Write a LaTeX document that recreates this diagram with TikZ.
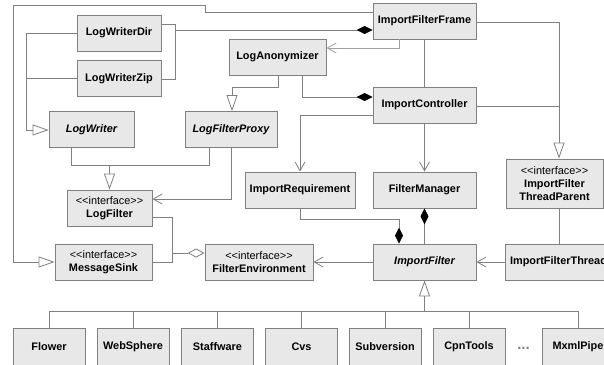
\documentclass[tikz,border=0pt]{standalone}
\usepackage{fontspec}
\setmainfont{Liberation Sans}
\usetikzlibrary{arrows.meta}
\definecolor{boxfill}{HTML}{E8E8E8}
\definecolor{edgecol}{HTML}{808080}
\definecolor{depcol}{HTML}{A0A0A0}
\newcommand\stereo[1]{<\kern0pt<#1>\kern0pt>}
\begin{document}
\begin{tikzpicture}[x=1pt,y=-1pt,
  box/.style={draw=edgecol, fill=boxfill, minimum height=36pt, inner sep=0pt, align=center,
    font=\fontsize{10.9}{12.7}\selectfont\bfseries, line width=0.8pt},
  lowbox/.style={box, minimum width=72pt, minimum height=38pt},
  conn/.style={draw=edgecol, line width=0.8pt},
  inh/.style={conn, -{Triangle[open, length=16pt, width=11pt, fill=white]}},
  comp/.style={conn, -{Diamond[length=16pt, width=8pt, fill=black, color=black]}},
  comprev/.style={conn, {Diamond[length=16pt, width=8pt, fill=black, color=black]}-},
  agg/.style={conn, -{Diamond[open, length=17pt, width=9pt, fill=white]}},
  assoc/.style={conn, -{Straight Barb[length=9pt, width=10pt]}},
  dep/.style={draw=depcol, line width=0.8pt, -{Straight Barb[length=9pt, width=10pt]}}
]
\useasboundingbox (0,0) rectangle (604,364);
\clip (0,0) rectangle (604,364);
\fill[white] (0,0) rectangle (604,364);

% nodes
\node[box, minimum width=103pt] (ifr) at (424.5,21) {ImportFilterFrame};
\node[box, minimum width=103pt] (ic) at (424.5,105) {ImportController};
\node[box, minimum width=84pt] (lwd) at (119,33) {LogWriterDir};
\node[box, minimum width=84pt] (lwz) at (119,78.5) {LogWriterZip};
\node[box, minimum width=97pt] (la) at (277.5,57) {LogAnonymizer};
\node[box, minimum width=85pt] (lw) at (91.5,129.5) {\itshape LogWriter};
\node[box, minimum width=92pt] (lfp) at (231,129.5) {\itshape LogFilterProxy};
\node[box, minimum width=85pt] (lf) at (109.5,208) {{\mdseries\stereo{interface}}\\LogFilter};
\node[box, minimum width=110pt] (ir) at (300,190) {ImportRequirement};
\node[box, minimum width=103pt] (fm) at (424.5,190) {FilterManager};
\node[box, minimum width=97pt, minimum height=49pt] (itp) at (554.5,183.5) {{\mdseries\stereo{interface}}\\ImportFilter\\ThreadParent};
\node[box, minimum width=97pt] (ms) at (103.5,262) {{\mdseries\stereo{interface}}\\MessageSink};
\node[box, minimum width=108pt] (fe) at (259,262) {{\mdseries\stereo{interface}}\\FilterEnvironment};
\node[box, minimum width=103pt] (ifl) at (424.5,262) {\itshape ImportFilter};
\node[box, minimum width=107pt] (it) at (558.5,262) {ImportFilterThread};

\node[lowbox] (flo) at (49,347) {Flower};
\node[lowbox] (web) at (133,347) {WebSphere};
\node[lowbox] (sta) at (217.5,347) {Staffware};
\node[lowbox] (cvs) at (301.5,347) {Cvs};
\node[lowbox] (sub) at (385,347) {Subversion};
\node[lowbox] (cpn) at (469,347) {CpnTools};
\node[lowbox] (mxml) at (578,347) {MxmlPipe};
\node[text=edgecol, font=\fontsize{15}{15}\selectfont\bfseries, inner sep=0pt, anchor=base] (dots) at (523.5,349) {...};

% ImportFilterFrame -> MessageSink
\draw[inh] (ifr.west |- 0,12) -- (205,12) -- (205,5) -- (13,5) -- (13,262) -- (ms.west);
% LogWriterDir / Zip composed in ImportFilterFrame
\draw[conn] (lwd.east |- 0,24) -- (175,24) -- (175,79) -- (lwz.east |- 0,79);
\draw[comp] (175,30) -- (ifr.west |- 0,30);
% LogWriterDir / Zip -> LogWriter
\draw[inh] (lwd.west |- 0,33) -- (26,33) -- (26,130) -- (lw.west |- 0,130);
\draw[conn] (lwz.west) -- (26,78.5);
% ImportFilterFrame -> LogAnonymizer
\draw[dep] (ifr.south -| 399,0) -- (399,48) -- (la.east |- 0,48);
% LogAnonymizer -> LogFilterProxy
\draw[inh] (la.south -| 278,0) -- (278,87) -- (232,87) -- (lfp.north -| 232,0);
% LogAnonymizer in ImportController
\draw[comp] (la.south -| 302,0) -- (302,97) -- (ic.west |- 0,97);
% ImportFilterFrame - ImportController
\draw[conn] (ifr.south) -- (ic.north);
% ImportFilterFrame / ImportController -> ImportFilterThreadParent
\draw[inh] (ifr.east |- 0,22) -- (559,22) -- (itp.north -| 559,0);
\draw[conn] (ic.east |- 0,106) -- (559,106);
% ImportController -> ImportRequirement
\draw[assoc] (ic.west |- 0,115) -- (300,115) -- (ir.north);
% ImportController -> FilterManager
\draw[assoc] (ic.south) -- (fm.north);
% FilterManager <>- ImportFilter
\draw[comprev] (fm.south) -- (ifl.north);
% ImportRequirement -> ImportFilter
\draw[comp] (ir.south) -- (300,219) -- (399,219) -- (ifl.north -| 399,0);
% ThreadParent - Thread
\draw[conn] (itp.south -| 559,0) -- (it.north -| 559,0);
% ImportFilterThread -> ImportFilter
\draw[assoc] (it.west) -- (ifl.east);
% ImportFilter -> FilterEnvironment
\draw[assoc] (ifl.west) -- (fe.east);
% LogWriter / LogFilterProxy -> LogFilter
\draw[conn] (lw.south -| 71,0) -- (71,165) -- (209,165) -- (lfp.south -| 209,0);
\draw[inh] (109.5,165) -- (lf.north);
% LogFilterProxy -> LogFilter
\draw[assoc] (lfp.south -| 231,0) -- (231,199) -- (lf.east |- 0,199);
% LogFilter / MessageSink aggregated in FilterEnvironment
\draw[conn] (lf.east |- 0,217) -- (172,217) -- (172,262) -- (ms.east);
\draw[agg] (172,253) -- (fe.west |- 0,253);
% ImportFilter subclasses
\draw[conn] (flo.north |- 0,311) -- (mxml.north |- 0,311);
\foreach \n in {flo,web,sta,cvs,sub,cpn,mxml}
  \draw[conn] (\n.north) -- (\n.north |- 0,311);
\draw[inh] (ifl.south |- 0,311) -- (ifl.south);
\end{tikzpicture}
\end{document}
